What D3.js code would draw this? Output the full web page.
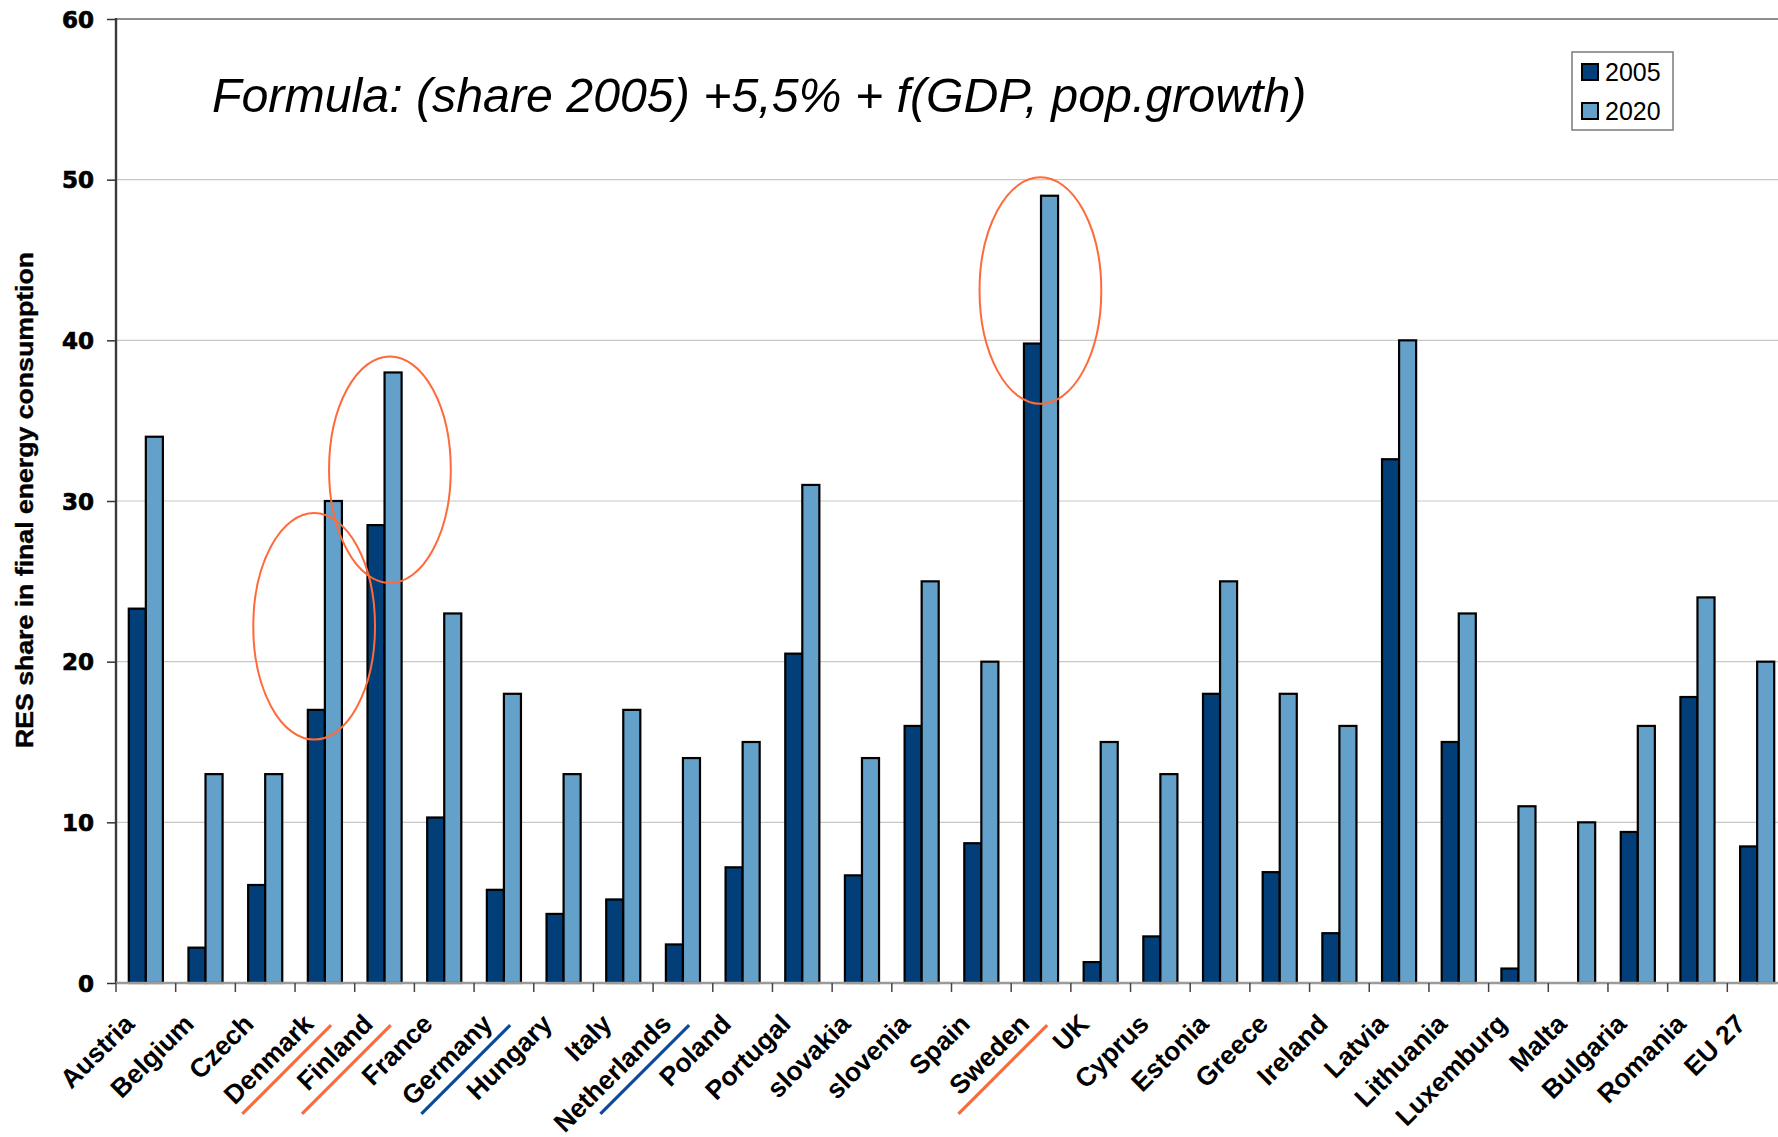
<!DOCTYPE html>
<html>
<head>
<meta charset="utf-8">
<script src="https://cdn.jsdelivr.net/npm/d3@7"></script>
<style>
  body { margin: 0; background: #fff; }
  svg { display: block; }
</style>
</head>
<body>
<svg id="chart"></svg>
<script>
// data
const countries = ['Austria', 'Belgium', 'Czech', 'Denmark', 'Finland', 'France', 'Germany', 'Hungary',
    'Italy', 'Netherlands', 'Poland', 'Portugal', 'slovakia', 'slovenia', 'Spain', 'Sweden', 'UK',
    'Cyprus', 'Estonia', 'Greece', 'Ireland', 'Latvia', 'Lithuania', 'Luxemburg', 'Malta', 'Bulgaria',
    'Romania', 'EU 27'];
const share2005 = [23.3, 2.2, 6.1, 17.0, 28.5, 10.3, 5.8, 4.3, 5.2, 2.4, 7.2, 20.5, 6.7, 16.0, 8.7, 39.8,
    1.3, 2.9, 18.0, 6.9, 3.1, 32.6, 15.0, 0.9, 0, 9.4, 17.8, 8.5];
const share2020 = [34, 13, 13, 30, 38, 23, 18, 13, 17, 14, 15, 31, 14, 25, 20, 49, 15, 13, 25, 18, 16, 40,
    23, 11, 10, 16, 24, 20];
const seriesNames = ['2005', '2020'];
const yTicks = [0, 10, 20, 30, 40, 50, 60];
const orangeMarked = ['Denmark', 'Finland', 'Sweden'];
const blueMarked = ['Germany', 'Netherlands'];
const circled = ['Denmark', 'Finland', 'Sweden'];
const titleText = 'Formula: (share 2005) +5,5% + f(GDP, pop.growth)';
const yTitle = 'RES share in final energy consumption';

const COLORS = {'2005': '#023f78', '2020': '#64a1ca'};
const ORANGE = '#ff6a3a';
const BLUE = '#0b4a9a';

class BarChart {
    constructor(_config) {
        this.config = {
            parentElement: _config.parentElement,
            containerWidth: 1778,
            containerHeight: 1137,
            // plot runs a little past the right edge, like the original
            margin: {top: 19, right: -9, bottom: 154, left: 116}
        };
        this.initVis();
    }

    initVis() {
        let vis = this;
        const m = vis.config.margin;
        vis.width = vis.config.containerWidth - m.left - m.right;
        vis.height = vis.config.containerHeight - m.top - m.bottom;

        vis.svg = d3.select(vis.config.parentElement)
            .attr('width', vis.config.containerWidth)
            .attr('height', vis.config.containerHeight);

        vis.chart = vis.svg.append('g')
            .attr('transform', `translate(${m.left},${m.top})`);

        vis.xScale = d3.scaleBand().domain(countries).range([0, vis.width]).padding(0);
        vis.xSub = d3.scaleBand().domain(seriesNames).range([0, vis.xScale.bandwidth()])
            .paddingInner(0).paddingOuter(0.75);
        vis.yScale = d3.scaleLinear().domain([0, 60]).range([vis.height, 0]);

        vis.data = countries.map((c, i) => ({country: c, values: [share2005[i], share2020[i]]}));
        vis.renderVis();
    }

    renderVis() {
        let vis = this;

        // gridlines
        vis.chart.append('g')
            .selectAll('line')
            .data(yTicks.filter(d => d > 0 && d < 60))
            .join('line')
            .attr('x1', 0).attr('x2', vis.width)
            .attr('y1', d => vis.yScale(d)).attr('y2', d => vis.yScale(d))
            .attr('stroke', '#c8c8c8')
            .attr('stroke-width', 1.2);

        // top border of plot area
        vis.chart.append('line')
            .attr('x1', 0).attr('x2', vis.width)
            .attr('y1', vis.yScale(60)).attr('y2', vis.yScale(60))
            .attr('stroke', '#8f8f8f')
            .attr('stroke-width', 2.2);

        // bars
        vis.chart.append('g')
            .selectAll('g')
            .data(vis.data)
            .join('g')
            .attr('transform', d => `translate(${vis.xScale(d.country)},0)`)
            .selectAll('rect')
            .data(d => d.values.map((v, i) => ({key: seriesNames[i], value: v})))
            .join('rect')
            .filter(d => d.value > 0)
            .attr('x', d => vis.xSub(d.key))
            .attr('width', vis.xSub.bandwidth())
            .attr('y', d => vis.yScale(d.value))
            .attr('height', d => vis.height - vis.yScale(d.value))
            .attr('fill', d => COLORS[d.key])
            .attr('stroke', '#000')
            .attr('stroke-width', 2.2);

        // y axis
        vis.yAxis = d3.axisLeft(vis.yScale).tickValues(yTicks).tickSize(9).tickPadding(13);
        const yAxisG = vis.chart.append('g').call(vis.yAxis);
        yAxisG.select('.domain').remove();
        yAxisG.selectAll('.tick line').attr('stroke', '#333').attr('stroke-width', 1.5);
        yAxisG.selectAll('.tick text')
            .attr('font-family', '"DejaVu Sans", sans-serif')
            .attr('font-weight', 'bold')
            .attr('font-size', 23)
            .attr('fill', '#000')
            .attr('stroke', '#000')
            .attr('stroke-width', 0.7)
            .attr('dy', '0.36em');
        vis.chart.append('line')
            .attr('x1', 0).attr('x2', 0)
            .attr('y1', vis.yScale(60) - 1).attr('y2', vis.height + 1)
            .attr('stroke', '#3a3a3a')
            .attr('stroke-width', 2.4);

        // x axis: line with ticks between categories
        vis.chart.append('line')
            .attr('x1', 0).attr('x2', vis.width)
            .attr('y1', vis.height).attr('y2', vis.height)
            .attr('stroke', '#9a9a9a')
            .attr('stroke-width', 2.4);
        vis.chart.append('g')
            .selectAll('line')
            .data(d3.range(countries.length + 1))
            .join('line')
            .attr('x1', i => i * vis.xScale.step()).attr('x2', i => i * vis.xScale.step())
            .attr('y1', vis.height).attr('y2', vis.height + 9)
            .attr('stroke', '#444')
            .attr('stroke-width', 1.5);

        // rotated category labels
        const labels = vis.chart.append('g')
            .selectAll('g')
            .data(countries)
            .join('g')
            .attr('transform', d => `translate(${vis.xScale(d) + vis.xScale.bandwidth() / 2 - 10},${vis.height + 42.5}) rotate(-45)`);
        labels.append('text')
            .attr('text-anchor', 'end')
            .attr('font-family', '"Liberation Sans", Arial, sans-serif')
            .attr('font-weight', 'bold')
            .attr('font-size', 26.5)
            .attr('fill', '#000')
            .text(d => d);
        labels.filter(d => orangeMarked.includes(d) || blueMarked.includes(d))
            .append('line')
            .attr('x1', -113.8).attr('x2', 11.7)
            .attr('y1', 11.2).attr('y2', 11.2)
            .attr('stroke', d => orangeMarked.includes(d) ? ORANGE : BLUE)
            .attr('stroke-width', 3.2);

        // circles round the highlighted pairs
        const nudge = {Denmark: -0.18, Finland: 0.09, Sweden: -0.01};
        vis.chart.append('g')
            .selectAll('ellipse')
            .data(vis.data.filter(d => circled.includes(d.country)))
            .join('ellipse')
            .attr('cx', d => vis.xScale(d.country) + vis.xScale.bandwidth() * (0.5 + nudge[d.country]))
            .attr('cy', d => vis.yScale(d3.mean(d.values) - 1.3))
            .attr('rx', vis.xScale.bandwidth() * 1.02)
            .attr('ry', vis.yScale(0) - vis.yScale(7.05))
            .attr('fill', 'none')
            .attr('stroke', ORANGE)
            .attr('stroke-width', 2);

        // axis title
        vis.svg.append('text')
            .attr('transform', `translate(33,500) rotate(-90)`)
            .attr('text-anchor', 'middle')
            .attr('font-family', '"Liberation Sans Narrow", "Liberation Sans", Arial, sans-serif')
            .attr('font-weight', 'bold')
            .attr('font-size', 24)
            .attr('stroke', '#000')
            .attr('stroke-width', 0.4)
            .attr('textLength', 496)
            .attr('lengthAdjust', 'spacingAndGlyphs')
            .text(yTitle);

        // formula title
        vis.svg.append('text')
            .attr('x', 212)
            .attr('y', 112)
            .attr('font-family', '"Liberation Sans", Arial, sans-serif')
            .attr('font-style', 'italic')
            .attr('font-size', 48.3)
            .attr('fill', '#000')
            .text(titleText);

        // legend
        const legend = vis.svg.append('g').attr('transform', 'translate(1572,52)');
        legend.append('rect')
            .attr('width', 101).attr('height', 78)
            .attr('fill', '#fff')
            .attr('stroke', '#7a7a7a')
            .attr('stroke-width', 1.5);
        const items = legend.selectAll('g.item')
            .data(seriesNames)
            .join('g')
            .attr('class', 'item')
            .attr('transform', (d, i) => `translate(10,${12 + i * 39})`);
        items.append('rect')
            .attr('width', 16).attr('height', 16)
            .attr('fill', d => COLORS[d])
            .attr('stroke', '#000')
            .attr('stroke-width', 2);
        items.append('text')
            .attr('x', 23).attr('y', 17)
            .attr('font-family', '"Liberation Sans", Arial, sans-serif')
            .attr('font-size', 25)
            .text(d => d);
    }
}

new BarChart({parentElement: '#chart'});
</script>
</body>
</html>
